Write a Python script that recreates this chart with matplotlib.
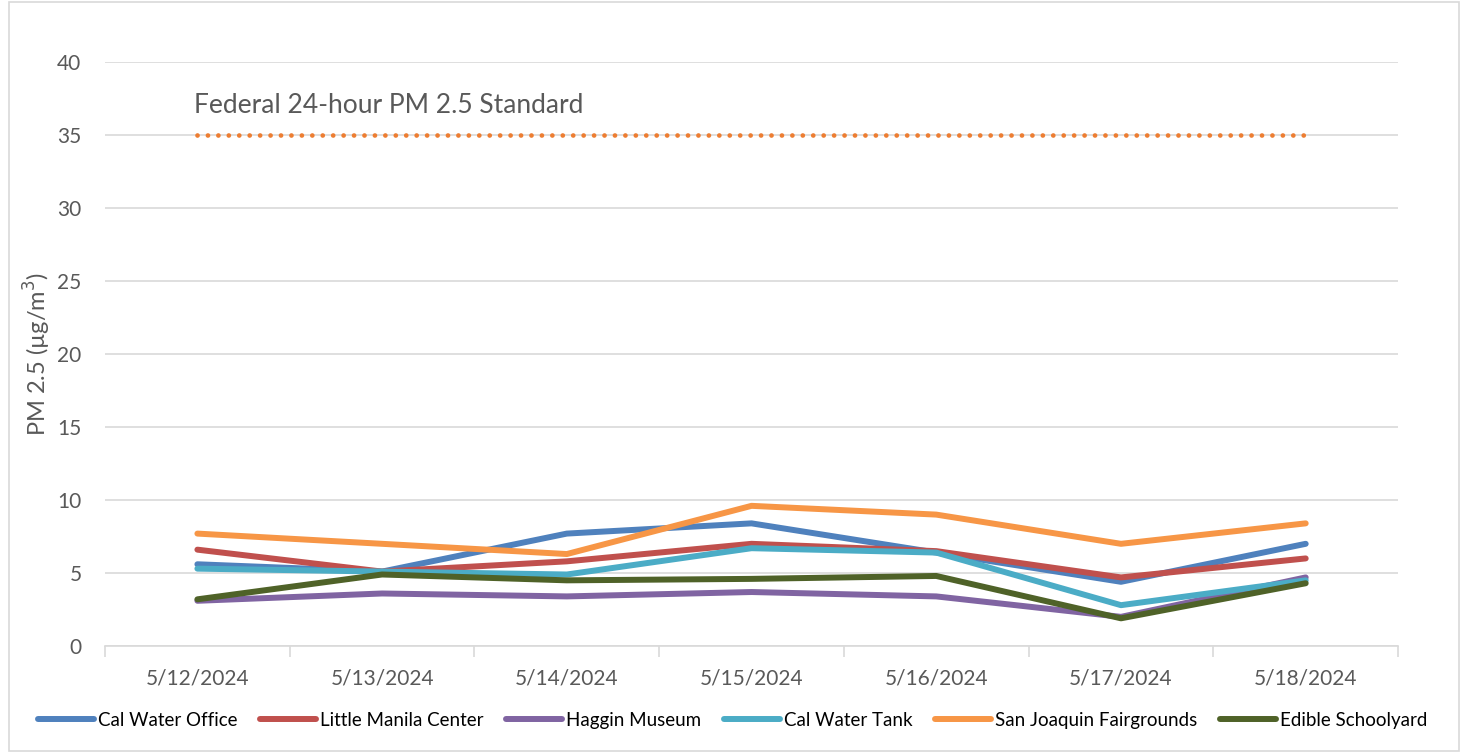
import matplotlib.pyplot as plt
from matplotlib.patches import Rectangle

plt.rcParams['font.family'] = ['Lato', 'DejaVu Sans']

dates = ['5/12/2024', '5/13/2024', '5/14/2024', '5/15/2024', '5/16/2024', '5/17/2024', '5/18/2024']

cal_water_office = [5.6, 5.1, 7.7, 8.4, 6.4, 4.4, 7.0]
little_manila = [6.6, 5.1, 5.8, 7.0, 6.5, 4.7, 6.0]
haggin_museum = [3.1, 3.6, 3.4, 3.7, 3.4, 2.0, 4.7]
cal_water_tank = [5.3, 5.1, 4.9, 6.7, 6.4, 2.8, 4.5]
fairgrounds = [7.7, 7.0, 6.3, 9.6, 9.0, 7.0, 8.4]
edible_schoolyard = [3.2, 4.9, 4.5, 4.6, 4.8, 1.9, 4.3]

standard = 35

series = [
    ('Cal Water Office', cal_water_office, '#4F81BD'),
    ('Little Manila Center', little_manila, '#C0504D'),
    ('Haggin Museum', haggin_museum, '#8064A2'),
    ('Cal Water Tank', cal_water_tank, '#4BACC6'),
    ('San Joaquin Fairgrounds', fairgrounds, '#F79646'),
    ('Edible Schoolyard', edible_schoolyard, '#4F6228'),
]

fig = plt.figure(figsize=(14.65, 7.53), dpi=100)
ax = fig.add_axes([0.0717, 0.142, 0.8826, 0.776])

x = list(range(len(dates)))

# federal standard, dotted
ax.plot(x, [standard] * len(x), color='#ED7D31', lw=3.4, dashes=(0.01, 2.2),
        dash_capstyle='round', zorder=3)
ax.text(-0.02, 37.0, 'Federal 24-hour PM 2.5 Standard', fontsize=19, color='#595959',
        va='center', ha='left')

for name, vals, color in series:
    ax.plot(x, vals, color=color, lw=4.3, label=name, solid_capstyle='round',
            solid_joinstyle='round', zorder=4)

ax.set_xlim(-0.5, len(dates) - 0.5)
ax.set_ylim(0, 40)
ax.set_yticks(range(0, 41, 5))
ax.set_xticks(x)
ax.set_xticklabels(dates)
ax.set_xticks([i - 0.5 for i in range(len(dates) + 1)], minor=True)

ax.grid(axis='y', color='#D9D9D9', lw=1.2)
ax.set_axisbelow(True)
for side in ['top', 'right', 'left']:
    ax.spines[side].set_visible(False)
ax.spines['bottom'].set_color('#D9D9D9')
ax.spines['bottom'].set_linewidth(1.2)

ax.tick_params(axis='y', length=0, labelsize=15, labelcolor='#595959', pad=17)
ax.tick_params(axis='x', which='major', length=0, labelsize=15, labelcolor='#595959', pad=16)
ax.tick_params(axis='x', which='minor', length=8, color='#D9D9D9', width=1.2)

ax.set_ylabel('PM 2.5 (µg/m$^3$)', fontsize=17, color='#595959')
ax.yaxis.set_label_coords(-0.040, 0.5)

ax.legend(loc='lower center', bbox_to_anchor=(0.5, 0.01), bbox_transform=fig.transFigure,
          ncol=6, frameon=False, fontsize=13.5, handlelength=3.0, handletextpad=0.2,
          columnspacing=1.2, labelcolor='#000000')

fig.patches.append(Rectangle((0.006, 0.003), 0.99, 0.994, transform=fig.transFigure,
                             fill=False, edgecolor='#D9D9D9', lw=1.2))

fig.savefig('out.png', dpi=100)
